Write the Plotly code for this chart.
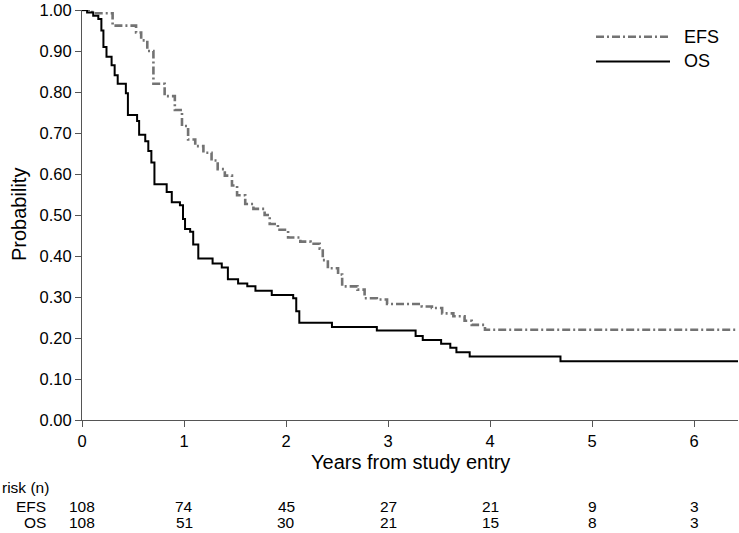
import plotly.graph_objects as go

# ---- data ----
os_t = [0, 0.05, 0.11, 0.16, 0.19, 0.21, 0.24, 0.29, 0.32, 0.35, 0.43, 0.45, 0.54, 0.56, 0.62,
        0.65, 0.68, 0.71, 0.83, 0.88, 0.96, 0.99, 1.01, 1.06, 1.09, 1.14, 1.28, 1.37, 1.43, 1.53,
        1.62, 1.70, 1.86, 2.07, 2.10, 2.13, 2.45, 2.89, 3.27, 3.34, 3.52, 3.61, 3.67, 3.80, 4.69, 6.43]
os_p = [1.0, 0.994, 0.986, 0.978, 0.95, 0.91, 0.886, 0.865, 0.841, 0.82, 0.797, 0.744, 0.729, 0.696, 0.68,
        0.656, 0.628, 0.575, 0.556, 0.531, 0.524, 0.49, 0.466, 0.459, 0.428, 0.394, 0.382, 0.372, 0.343, 0.333,
        0.326, 0.315, 0.305, 0.297, 0.265, 0.237, 0.227, 0.218, 0.205, 0.195, 0.186, 0.176, 0.165, 0.155, 0.143, 0.143]

efs_t = [0, 0.10, 0.30, 0.53, 0.58, 0.64, 0.70, 0.81, 0.91, 0.98, 1.04, 1.11, 1.19, 1.27, 1.33,
         1.40, 1.47, 1.52, 1.60, 1.68, 1.79, 1.84, 1.92, 2.02, 2.14, 2.24, 2.33, 2.36, 2.41, 2.51,
         2.55, 2.70, 2.77, 2.89, 2.99, 3.33, 3.43, 3.53, 3.64, 3.75, 3.82, 3.95, 6.43]
efs_p = [1.0, 0.992, 0.962, 0.945, 0.926, 0.90, 0.82, 0.79, 0.756, 0.717, 0.684, 0.668, 0.652, 0.633, 0.612,
         0.596, 0.572, 0.548, 0.527, 0.515, 0.50, 0.478, 0.464, 0.445, 0.435, 0.43, 0.418, 0.39, 0.37, 0.355,
         0.326, 0.318, 0.297, 0.294, 0.283, 0.277, 0.273, 0.26, 0.253, 0.242, 0.232, 0.22, 0.22]

risk_years = [0, 1, 2, 3, 4, 5, 6]
risk_efs = [108, 74, 45, 27, 21, 9, 3]
risk_os = [108, 51, 30, 21, 15, 8, 3]
y_ticks = [0, 0.1, 0.2, 0.3, 0.4, 0.5, 0.6, 0.7, 0.8, 0.9, 1.0]

FONT = "Arial, Liberation Sans, sans-serif"
EFS_COLOR = "#737373"
OS_COLOR = "#000000"

fig = go.Figure()
fig.add_trace(go.Scatter(x=efs_t, y=efs_p, mode="lines", name="EFS", line_shape="hv",
                         line=dict(color=EFS_COLOR, width=2.6, dash="8px,3px,2px,3px"),
                         showlegend=False))
fig.add_trace(go.Scatter(x=os_t, y=os_p, mode="lines", name="OS", line_shape="hv",
                         line=dict(color=OS_COLOR, width=2), showlegend=False))

W, H = 739, 533
L, R, T, B = 82, 1, 6, 113
pw, ph = W - L - R, H - T - B


def px2paper_x(px):
    return (px - L) / pw


def px2paper_y(py):
    return (H - B - py) / ph


# legend drawn as shapes/annotations
legend_items = [("EFS", EFS_COLOR, 2.6, "8px,3px,2px,3px", 33), ("OS", OS_COLOR, 2, "solid", 58)]
for name, col, w, dash, py in legend_items:
    fig.add_shape(type="line", xref="paper", yref="paper",
                  x0=px2paper_x(596), x1=px2paper_x(670), y0=px2paper_y(py), y1=px2paper_y(py),
                  line=dict(color=col, width=w, dash=dash))
    fig.add_annotation(text=name, xref="paper", yref="paper", x=px2paper_x(682), y=px2paper_y(py),
                       xanchor="left", yanchor="middle", showarrow=False,
                       font=dict(family=FONT, size=18, color="#000"))

# axis titles
fig.add_annotation(text="Years from study entry", xref="paper", yref="paper",
                   x=px2paper_x(410), y=px2paper_y(462), xanchor="center", yanchor="middle",
                   showarrow=False, font=dict(family=FONT, size=20, color="#000"))
fig.add_annotation(text="Probability", xref="paper", yref="paper", textangle=-90,
                   x=px2paper_x(19), y=px2paper_y(213), xanchor="center", yanchor="middle",
                   showarrow=False, font=dict(family=FONT, size=20, color="#000"))

# risk table
fig.add_annotation(text="risk (n)", xref="paper", yref="paper", x=px2paper_x(0), y=px2paper_y(488),
                   xanchor="left", yanchor="middle", showarrow=False,
                   font=dict(family=FONT, size=15.5, color="#000"))
for label, vals, py in [("EFS", risk_efs, 507), ("OS", risk_os, 523)]:
    fig.add_annotation(text=label, xref="paper", yref="paper", x=px2paper_x(48), y=px2paper_y(py),
                       xanchor="right", yanchor="middle", showarrow=False,
                       font=dict(family=FONT, size=15.5, color="#000"))
    for yr, v in zip(risk_years, vals):
        fig.add_annotation(text=str(v), xref="x", yref="paper", x=yr, y=px2paper_y(py),
                           xanchor="center", yanchor="middle", showarrow=False,
                           font=dict(family=FONT, size=15.5, color="#000"))

fig.update_layout(
    width=W, height=H,
    margin=dict(l=L, r=R, t=T, b=B, pad=0),
    paper_bgcolor="white", plot_bgcolor="white",
    font=dict(family=FONT, size=15, color="#000"),
    xaxis=dict(range=[0, 6.43], tickmode="array", tickvals=risk_years,
               ticktext=[str(v) for v in risk_years],
               showline=True, linecolor="#555", linewidth=1, ticks="outside", ticklen=6,
               tickcolor="#555", showgrid=False, zeroline=False,
               tickfont=dict(family=FONT, size=16.5, color="#000")),
    yaxis=dict(range=[0, 1.0], tickmode="array", tickvals=y_ticks,
               ticktext=[f"{v:.2f}" for v in y_ticks],
               showline=True, linecolor="#555", linewidth=1, ticks="outside", ticklen=6,
               tickcolor="#555", showgrid=False, zeroline=False, ticklabeloverflow="allow",
               tickfont=dict(family=FONT, size=16.5, color="#000")),
)

fig.write_html("out.html", config={"displayModeBar": False},
               post_script="document.body.style.margin='0px';document.body.style.overflow='hidden';")
